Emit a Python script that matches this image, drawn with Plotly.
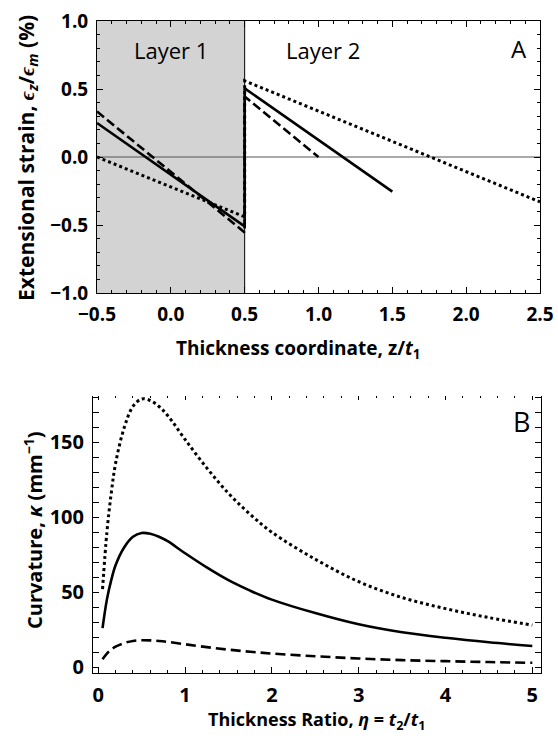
import plotly.graph_objects as go

# ---------------- Panel A: strain through thickness ----------------
z_solid = [-0.5, 0.5, 0.5, 1.5]
e_solid = [0.25, -0.51, 0.505, -0.255]
z_dash = [-0.5, 0.5, 0.5, 1.0]
e_dash = [0.335, -0.555, 0.445, 0.0]
z_dot = [-0.5, 0.5, 0.5, 2.5]
e_dot = [0.0, -0.44, 0.56, -0.33]

xticks_a = [-0.5, 0.0, 0.5, 1.0, 1.5, 2.0, 2.5]
xlabels_a = ["−0.5", "0.0", "0.5", "1.0", "1.5", "2.0", "2.5"]
yticks_a = [-1.0, -0.5, 0.0, 0.5, 1.0]
ylabels_a = ["−1.0", "−0.5", "0.0", "0.5", "1.0"]

# ---------------- Panel B: curvature vs thickness ratio ----------------
eta = [0.05, 0.1, 0.15, 0.2, 0.3, 0.4, 0.5, 0.6, 0.7, 0.8, 1.0, 1.25, 1.5,
       1.75, 2.0, 2.5, 3.0, 3.5, 4.0, 4.5, 5.0]
k_solid = [26, 45, 58, 68, 80, 87, 89.5, 89, 87, 84, 76, 66.5, 58,
           51, 45, 36, 28.5, 23.2, 19.5, 16.5, 14]
k_dash = [5.2, 9, 11.6, 13.6, 16, 17.4, 17.9, 17.8, 17.4, 16.8, 15.2, 13.3, 11.6,
          10.2, 9, 7.2, 5.7, 4.6, 3.9, 3.3, 2.8]
k_dot = [52, 90, 116, 136, 160, 174, 179, 178, 174, 168, 152, 133, 116,
         102, 90, 72, 57, 46.4, 39, 33, 28]

xticks_b = [0, 1, 2, 3, 4, 5]
xlabels_b = ["0", "1", "2", "3", "4", "5"]
yticks_b = [0, 50, 100, 150]
ylabels_b = ["0", "50", "100", "150"]

FONT = "Open Sans"
BLACK = "black"
LW = 2.6
DASH_A = "9px,4px"
DOT_A = "3px,3px"
DASH_B = "10px,5px"
DOT_B = "3px,3px"

fig = go.Figure()

# Panel A traces
fig.add_trace(go.Scatter(x=z_dot, y=e_dot, mode="lines", xaxis="x", yaxis="y",
                         line=dict(color=BLACK, width=3, dash=DOT_A)))
fig.add_trace(go.Scatter(x=z_dash, y=e_dash, mode="lines", xaxis="x", yaxis="y",
                         line=dict(color=BLACK, width=LW, dash=DASH_A)))
fig.add_trace(go.Scatter(x=z_solid, y=e_solid, mode="lines", xaxis="x", yaxis="y",
                         line=dict(color=BLACK, width=LW)))

# Panel B traces
fig.add_trace(go.Scatter(x=eta, y=k_dot, mode="lines", xaxis="x2", yaxis="y2",
                         line=dict(color=BLACK, width=3, dash=DOT_B, shape="spline")))
fig.add_trace(go.Scatter(x=eta, y=k_solid, mode="lines", xaxis="x2", yaxis="y2",
                         line=dict(color=BLACK, width=LW, shape="spline")))
fig.add_trace(go.Scatter(x=eta, y=k_dash, mode="lines", xaxis="x2", yaxis="y2",
                         line=dict(color=BLACK, width=LW, dash=DASH_B, shape="spline")))
# invisible helper trace for top tick axis of panel B
fig.add_trace(go.Scatter(x=[eta[0]], y=[k_solid[0]], mode="lines", xaxis="x3", yaxis="y2",
                         line=dict(width=0), hoverinfo="skip", opacity=0))

def bold(lst):
    return ["<b>%s</b>" % s for s in lst]

tickfont_a = dict(family=FONT, size=19, color=BLACK)
tickfont_b = dict(family=FONT, size=20, color=BLACK)

common = dict(showgrid=False, zeroline=False, showline=True, linecolor=BLACK,
              linewidth=1, ticks="inside", ticklen=6, tickcolor=BLACK,
              automargin=False, tickmode="array")

fig.update_layout(
    width=558, height=740,
    margin=dict(l=0, r=0, t=0, b=0),
    paper_bgcolor="white", plot_bgcolor="white",
    showlegend=False,
    xaxis=dict(domain=[97/558, 540/558], anchor="y", range=[-0.5, 2.5],
               tickvals=xticks_a, ticktext=bold(xlabels_a), mirror="allticks",
               tickfont=tickfont_a, ticklabelstandoff=4,
               minor=dict(dtick=0.1, tick0=0, ticks="inside", ticklen=3, tickcolor=BLACK),
               **common),
    yaxis=dict(domain=[1-293/740, 1-21/740], anchor="x", range=[-1, 1],
               tickvals=yticks_a, ticktext=bold(ylabels_a), mirror="allticks",
               tickfont=tickfont_a, ticklabelstandoff=4,
               minor=dict(dtick=0.1, tick0=0, ticks="inside", ticklen=3, tickcolor=BLACK),
               **common),
    xaxis2=dict(domain=[93/558, 541/558], anchor="y2", range=[-0.06, 5.1],
                tickvals=xticks_b, ticktext=bold(xlabels_b), mirror=False,
                tickfont=tickfont_b, ticklabelstandoff=4,
                minor=dict(dtick=0.2, tick0=0, ticks="inside", ticklen=3, tickcolor=BLACK),
                **common),
    xaxis3=dict(overlaying="x2", anchor="y2", side="top", range=[-0.06, 5.1],
                tick0=0, dtick=1, showline=False, showgrid=False, zeroline=False,
                ticks="inside", ticklen=4, tickcolor=BLACK, showticklabels=False,
                minor=dict(dtick=0.2, ticks="inside", ticklen=2, tickcolor=BLACK)),
    yaxis2=dict(domain=[1-673/740, 1-396/740], anchor="x2", range=[-4, 181],
                tickvals=yticks_b, ticktext=bold(ylabels_b), mirror="allticks",
                tickfont=tickfont_b, ticklabelstandoff=4,
                minor=dict(dtick=10, tick0=0, ticks="inside", ticklen=3, tickcolor=BLACK),
                **common),
)

# shading and reference lines for panel A
fig.add_shape(type="rect", xref="x", yref="y", x0=-0.5, x1=0.5, y0=-1, y1=1,
              fillcolor="#d3d3d3", line=dict(width=0), layer="below")
fig.add_shape(type="line", xref="x", yref="y", x0=-0.5, x1=2.5, y0=0, y1=0,
              line=dict(color="#555555", width=1), layer="below")
fig.add_shape(type="line", xref="x", yref="y", x0=0.5, x1=0.5, y0=-1, y1=1,
              line=dict(color=BLACK, width=1), layer="below")

def label(x, y, xref, yref, text, size, angle=0):
    return dict(x=x, y=y, xref=xref, yref=yref, text=text, showarrow=False,
                xanchor="center", yanchor="middle", textangle=angle,
                font=dict(family=FONT, size=size, color=BLACK))

ann = [
    label(0.0, 0.79, "x", "y", "Layer 1", 22),
    label(1.03, 0.79, "x", "y", "Layer 2", 22),
    label(2.36, 0.80, "x", "y", "A", 24),
    label(4.87, 164, "x2", "y2", "B", 27),
    label(298/558, 1-349/740, "paper", "paper",
          "<b>Thickness coordinate, z/<i>t</i><sub>1</sub></b>", 19),
    label(27/558, 1-158/740, "paper", "paper",
          "<b>Extensional strain, <i>ϵ</i><sub><i>z</i></sub>/<i>ϵ</i><sub><i>m</i></sub> (%)</b>",
          21, -90),
    label(316/558, 1-720/740, "paper", "paper",
          "<b>Thickness Ratio, <i>η</i> = <i>t</i><sub>2</sub>/<i>t</i><sub>1</sub></b>", 18),
    label(33/558, 1-531/740, "paper", "paper",
          "<b>Curvature, <i>κ</i> (mm<sup>−1</sup>)</b>", 20, -90),
]
fig.update_layout(annotations=ann)

fig.write_html("out.html")
